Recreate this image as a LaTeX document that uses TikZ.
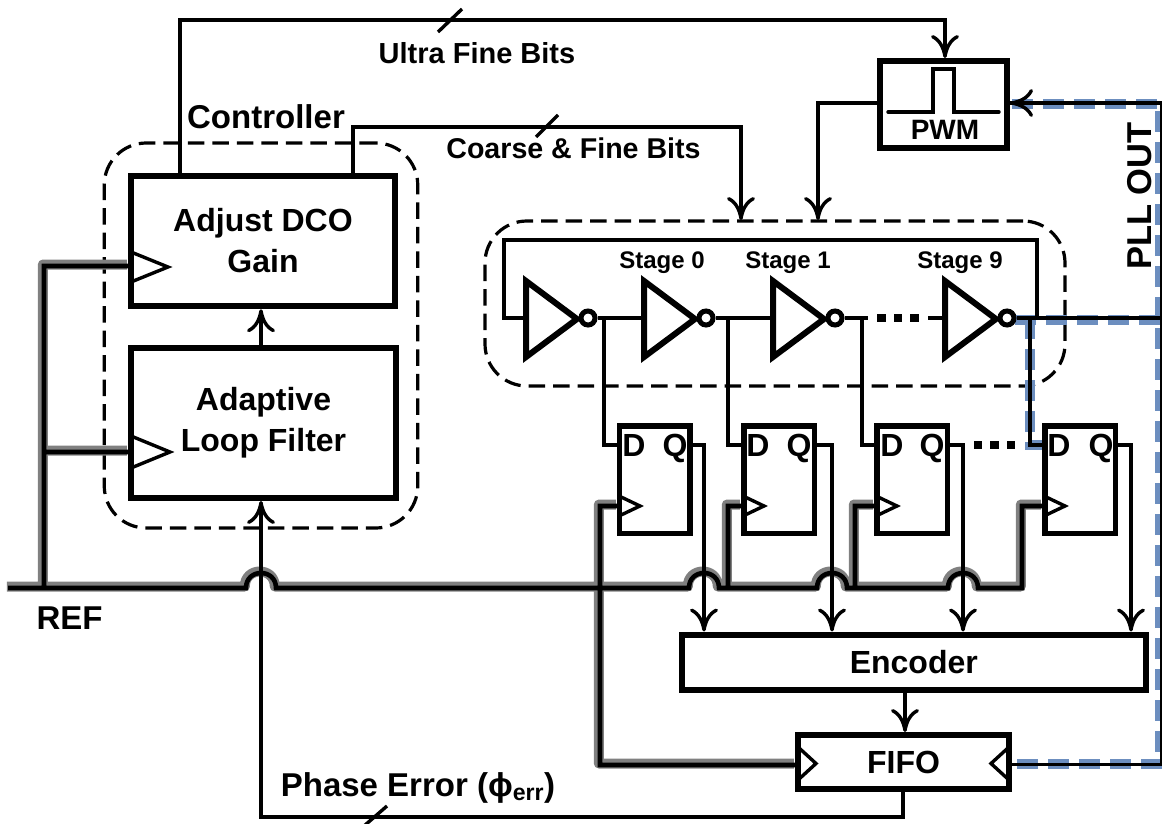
\documentclass[tikz,border=0pt]{standalone}
\usepackage{fontspec}
\setmainfont{Liberation Sans}[BoldFont={Liberation Sans Bold}]
\usetikzlibrary{arrows.meta,positioning}
\newcommand{\fsz}[1]{\fontsize{#1}{41}\selectfont\bfseries}
\newcommand{\hmp}[1]{-- (#1-15,588) .. controls (#1-15,568) and (#1+15,568) .. (#1+15,588)}
\definecolor{halo}{HTML}{808080}
\definecolor{pllblue}{HTML}{6C8EBF}
\tikzset{
  x=1pt,y=-1pt,
  lbl/.style={inner sep=0pt,outer sep=0pt,font=\fsz{#1},align=center},
  lbl/.default=32,
  boxn/.style={draw=black,fill=white,line width=6pt,inner sep=0pt,outer sep=3pt,align=center,font=\fsz{32}},
  ffbox/.style={boxn,line width=5.5pt,outer sep=2.75pt,minimum width=70.5pt,minimum height=107.5pt},
  dashbox/.style={draw=black,line width=3.2pt,rounded corners=42pt,dash pattern=on 16.5pt off 8pt,inner sep=0pt,outer sep=0pt},
  wire/.style={draw=black,line width=3.4pt,line join=miter},
  arrowed/.style={wire,-{Computer Modern Rightarrow[length=23pt,width=28pt,line width=3.4pt]}},
  gbus/.style={draw=halo,line width=10pt,line join=round},
  kbus/.style={draw=black,line width=4.6pt,line join=miter},
  blueline/.style={draw=pllblue,line width=10pt,dash pattern=on 21pt off 10pt},
  inv/.style={draw=black,fill=white,line width=6pt,line join=miter},
  bubble/.style={circle,draw=black,fill=white,line width=5pt,minimum size=14pt,inner sep=0pt,outer sep=2.5pt},
  clk/.style={draw=black,line width=3.4pt,line join=miter},
  dotsq/.style={fill=black,minimum size=8.5pt,inner sep=0pt,outer sep=0pt},
}
\begin{document}
\begin{tikzpicture}
\useasboundingbox (0,0) rectangle (1162,824);
% dashed groups
\node[dashbox,minimum width=313.5pt,minimum height=385pt] (ctrl) at (261,335.5) {};
\node[dashbox,minimum width=580pt,minimum height=165pt] (ring) at (775,303.5) {};
% named points
\coordinate (refstart) at (8,588);
\coordinate (pllT) at (1161.5,103);
\coordinate (pllB) at (1161.5,764.5);
\coordinate (pllM) at (1161.5,318);
\coordinate (bluedrop) at (1030,318);
\coordinate (slashAa) at (438,32);
\coordinate (slashAb) at (462,9);
\coordinate (slashBa) at (536,137);
\coordinate (slashBb) at (558,115);
\coordinate (slashCa) at (364,826);
\coordinate (slashCb) at (387,806);
% blue PLL OUT nets (under the black wires)
\draw[blueline] (1012,104) -- (1160,104) -- (1160,764) -- (1015,764);
\draw[blueline] (1015,320) -- (1160,320);
\draw[blueline] (bluedrop) -- (1030,445) -- (1042,445);
% grey-haloed REF bus
\path[gbus,transform canvas={xshift=-1.2pt,yshift=1.5pt}] (refstart) \hmp{261} \hmp{704} \hmp{832} \hmp{963} -- (1022,588) -- (1022,506) -- (1042,506)
  (44,588) -- (44,266) -- (128,266)
  (44,452) -- (128,452)
  (617,506) -- (600,506) -- (600,765) -- (795,765)
  (728,588) -- (728,506) -- (741,506)
  (855,588) -- (855,506) -- (874,506);
\path[kbus] (refstart) \hmp{261} \hmp{704} \hmp{832} \hmp{963} -- (1022,588) -- (1022,506) -- (1042,506)
  (44,590) -- (44,266) -- (128,266)
  (44,452) -- (128,452)
  (617,506) -- (600,506) -- (600,765) -- (795,765)
  (728,588) -- (728,506) -- (741,506)
  (855,588) -- (855,506) -- (874,506);
% boxes
\node[boxn,minimum width=264pt,minimum height=130.5pt] (gain) at (263,241) {Adjust DCO\\Gain};
\node[boxn,minimum width=265pt,minimum height=150pt] (filt) at (263.5,423) {Adaptive\\Loop Filter};
\node[boxn,minimum width=127pt,minimum height=87pt] (pwm) at (943.5,104.5) {};
\node[boxn,minimum width=463.5pt,minimum height=55pt] (enc) at (913.8,662) {Encoder};
\node[boxn,minimum width=211pt,minimum height=54pt] (fifo) at (903.5,762) {FIFO};
\node[ffbox] (ff1) at (654.5,479.5) {};
\node[ffbox] (ff2) at (779,479.5) {};
\node[ffbox] (ff3) at (912,479.5) {};
\node[ffbox] (ff4) at (1080,479.5) {};
% PWM pulse
\draw[wire,line cap=round] (888,112) -- (933,112) -- (933,69) -- (954,69) -- (954,112) -- (999,112);
\node[lbl=28] (pwmt) at (945,130) {PWM};
% clock triangles
\draw[clk] (131,252) -- (168,267) -- (131,282);
\draw[clk] (131,436) -- (170,452) -- (131,468);
\foreach \n/\x in {1/619,2/743,3/876,4/1044}{
  \draw[clk] (\x,496) -- (\x+21,506) -- (\x,516);
}
\draw[clk] (798,747) -- (816,763.5) -- (798,780);
\draw[clk] (1009,747) -- (991,763.5) -- (1009,780);
% top wires
\draw[arrowed] (gain.north -| 180,0) |- (945,20) -- (pwm.north -| 945,0);
\draw[wire] (slashAa) -- (slashAb);
\draw[arrowed] (gain.north -| 353,0) |- (741,127) -- (741,220);
\draw[wire] (slashBa) -- (slashBb);
\draw[arrowed] (pwm.west |- 0,103) -| (818,220);
\draw[arrowed] (filt.north -| 261,0) -- (gain.south -| 261,0);
% PLL OUT black
\draw[wire] (pllM) -- (pllT) -- (pwm.east |- 0,103);
\draw[arrowed] (pllT) -- (pwm.east |- 0,103);
\draw[wire] (pllM) -- (pllB) -- (fifo.east |- 0,764.5);
% ring
\coordinate (ringin) at (526,318);
\draw[wire] (ringin) -- (504,318) |- (1037,240) -- (1037,318);
\foreach \n/\l in {1/526,2/644,3/773,4/945}{
  \draw[inv] (\l,281) -- (\l+51,319) -- (\l,357) -- cycle;
  \node[bubble] (b\n) at (\l+62,318) {};
}
\draw[wire] (b1) -- (644,318);
\draw[wire] (b2) -- (773,318);
\draw[wire] (b3) -- (868,318);
\draw[wire] (928,318) -- (945,318);
\draw[wire] (b4) -- (pllM);
\node[dotsq] (da) at (881.5,318) {};
\node[dotsq] (db) at (898,318) {};
\node[dotsq] (dc) at (914.5,318) {};
\node[dotsq] (dd) at (978,445) {};
\node[dotsq] (de) at (994.5,445) {};
\node[dotsq] (df) at (1011,445) {};
% D inputs
\draw[wire] (604,318) |- (ff1.west |- 0,445);
\draw[wire] (728,318) |- (ff2.west |- 0,445);
\draw[wire] (862,318) |- (ff3.west |- 0,445);
\draw[wire] (bluedrop) |- (ff4.west |- 0,445);
% Q outputs
\draw[arrowed] (ff1.east |- 0,445) -| (enc.north -| 704,0);
\draw[arrowed] (ff2.east |- 0,445) -| (enc.north -| 832,0);
\draw[arrowed] (ff3.east |- 0,445) -| (enc.north -| 963,0);
\draw[arrowed] (ff4.east |- 0,445) -| (enc.north -| 1131,0);
% encoder / fifo
\draw[arrowed] (enc.south -| 905,0) -- (fifo.north -| 905,0);
\draw[arrowed] (fifo.south -| 903,0) |- (261,817) -- (filt.south -| 261,0);
\draw[wire] (slashCa) -- (slashCb);
% labels
\node[lbl=33] (t1) at (266,117) {Controller};
\node[lbl=29] (t2) at (477,53) {Ultra Fine Bits};
\node[lbl=28.6] (t3) at (573.5,148) {Coarse \& Fine Bits};
\node[lbl=24] (s0) at (662,263) {Stage 0};
\node[lbl=24] (s1) at (788,263) {Stage 1};
\node[lbl=24] (s9) at (960,263) {Stage 9};
\node[lbl=34.5,rotate=90] (t4) at (1140,196) {PLL OUT};
\node[lbl=33] (t5) at (69.5,618) {REF};
\node[lbl=33] (t6) at (418,788) {Phase Error (ϕ\textsubscript{err})};
\foreach \n/\d/\q in {1/634/675,2/758/799,3/892/932,4/1059/1101}{
  \node[lbl=32,anchor=base] (D\n) at (\d,456) {D};
  \node[lbl=32,anchor=base] (Q\n) at (\q,456) {Q};
}
\end{tikzpicture}
\end{document}
